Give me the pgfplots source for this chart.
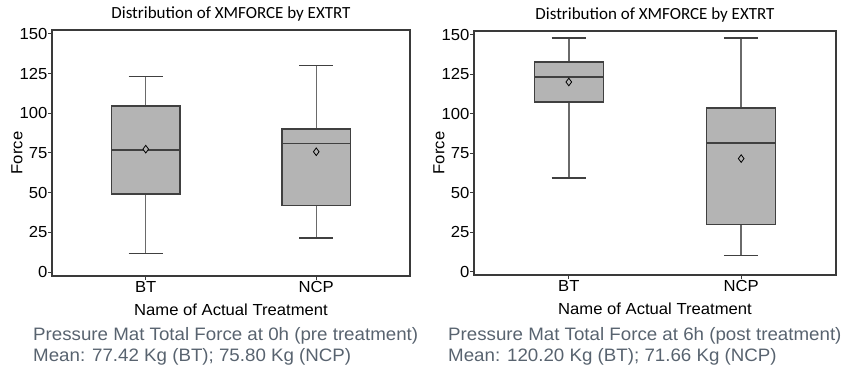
\documentclass[border=0pt]{standalone}
\usepackage{pgfplots}
\pgfplotsset{compat=1.18}
\usepackage{fontspec}
\setmainfont{Liberation Sans}
\newfontfamily\titlefont{Carlito}
\newfontfamily\widefont[FakeStretch=1.04]{Liberation Sans}
\definecolor{boxgray}{HTML}{B4B4B4}
\definecolor{boxedge}{HTML}{404040}
\definecolor{whisk}{HTML}{6A6A6A}
\definecolor{framec}{HTML}{3A3A3A}
\definecolor{capc}{HTML}{58636F}
\pgfplotsset{
  myaxis/.style={
    scale only axis,
    anchor=south west,
    xmin=-0.55, xmax=1.55,
    ymin=-2.5, ymax=152.5,
    xtick={0,1}, xticklabels={BT,NCP},
    ytick={0,25,50,75,100,125,150},
    xtick pos=bottom, ytick pos=left,
    axis line style={framec, line width=1.1bp},
    tick style={framec, line width=1bp},
    tick align=outside,
    major tick length=4bp,
    tick label style={font=\widefont\fontsize{16bp}{18bp}\selectfont, text=black},
    /pgf/number format/assume math mode=true,
    yticklabel style={inner sep=0.5bp},
    xticklabel style={inner sep=1bp},
    ylabel={Force},
    ylabel style={at={(axis description cs:0,0.5)}, anchor=center, yshift=35bp, font=\widefont\fontsize{16bp}{18bp}\selectfont},
    xlabel={Name of Actual Treatment},
    xlabel style={at={(axis description cs:0.5,0)}, anchor=base, yshift=-40bp, font=\widefont\fontsize{16bp}{18bp}\selectfont},
    title={Distribution of XMFORCE by EXTRT},
    title style={at={(axis description cs:0.5,1)}, anchor=base, yshift=6bp, font=\titlefont\fontsize{17bp}{19bp}\selectfont},
  },
  boxst/.style={fill=boxgray, draw=boxedge, line width=1.3bp},
  whst/.style={draw=whisk, line width=1.4bp},
  capst/.style={draw=boxedge, line width=1.3bp},
  medst/.style={draw=boxedge, line width=1.3bp},
  meanmark/.style={only marks, mark=diamond*, mark size=3.8, mark options={draw=black, fill=boxgray, line width=0.8bp}},
}
\begin{document}
\begin{tikzpicture}
\path[use as bounding box] (0,0) rectangle (855bp,373bp);
\begin{axis}[myaxis, at={(52bp,97bp)}, width=358bp, height=246bp]
% BT (0h): whiskers 11.8-123.3, box 49.1-104.6, median 76.9
\addplot[whst] coordinates {(0,11.8) (0,49.1)};
\addplot[whst] coordinates {(0,104.6) (0,123.3)};
\addplot[capst] coordinates {(-0.1,11.8) (0.1,11.8)};
\addplot[capst] coordinates {(-0.1,123.3) (0.1,123.3)};
\addplot[boxst] coordinates {(-0.2,49.1) (0.2,49.1) (0.2,104.6) (-0.2,104.6)} -- cycle;
\addplot[medst] coordinates {(-0.2,76.9) (0.2,76.9)};
% NCP (0h): whiskers 21.4-130.2, box 42.0-90.1, median 81.1
\addplot[whst] coordinates {(1,21.4) (1,42.0)};
\addplot[whst] coordinates {(1,90.1) (1,130.2)};
\addplot[capst] coordinates {(0.9,21.4) (1.1,21.4)};
\addplot[capst] coordinates {(0.9,130.2) (1.1,130.2)};
\addplot[boxst] coordinates {(0.8,42.0) (1.2,42.0) (1.2,90.1) (0.8,90.1)} -- cycle;
\addplot[medst] coordinates {(0.8,81.1) (1.2,81.1)};
\addplot[meanmark] coordinates {(0,77.42) (1,75.80)};
\end{axis}
\begin{axis}[myaxis, at={(474bp,98bp)}, width=362bp, height=244bp, ymin=-2.1]
% BT (6h)
\addplot[whst] coordinates {(0,59.4) (0,107.5)};
\addplot[whst] coordinates {(0,132.9) (0,148.0)};
\addplot[capst] coordinates {(-0.1,59.4) (0.1,59.4)};
\addplot[capst] coordinates {(-0.1,148.0) (0.1,148.0)};
\addplot[boxst] coordinates {(-0.2,107.5) (0.2,107.5) (0.2,132.9) (-0.2,132.9)} -- cycle;
\addplot[medst] coordinates {(-0.2,123.3) (0.2,123.3)};
% NCP (6h)
\addplot[whst] coordinates {(1,10.2) (1,30.0)};
\addplot[whst] coordinates {(1,103.7) (1,148.0)};
\addplot[capst] coordinates {(0.9,10.2) (1.1,10.2)};
\addplot[capst] coordinates {(0.9,148.0) (1.1,148.0)};
\addplot[boxst] coordinates {(0.8,30.0) (1.2,30.0) (1.2,103.7) (0.8,103.7)} -- cycle;
\addplot[medst] coordinates {(0.8,81.6) (1.2,81.6)};
\addplot[meanmark] coordinates {(0,120.20) (1,71.66)};
\end{axis}
\begin{scope}[every node/.style={anchor=base west, inner sep=0pt, text=capc, font=\widefont\fontsize{18bp}{20bp}\selectfont}]
\node at (33bp,33bp) {Pressure Mat Total Force at 0h (pre treatment)};
\node at (33bp,12bp) {Mean: 77.42 Kg (BT); 75.80 Kg (NCP)};
\node at (448bp,33bp) {Pressure Mat Total Force at 6h (post treatment)};
\node at (448bp,12bp) {Mean: 120.20 Kg (BT); 71.66 Kg (NCP)};
\end{scope}
\end{tikzpicture}
\end{document}
